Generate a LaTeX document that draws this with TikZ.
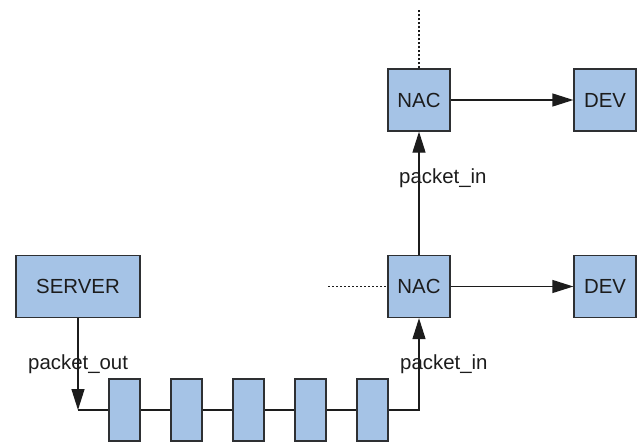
\documentclass[tikz,border=0pt]{standalone}
\usepackage{fontspec}
\setmainfont{Liberation Sans}
\usetikzlibrary{arrows.meta}
\definecolor{boxfill}{HTML}{A5C3E6}
\definecolor{boxline}{HTML}{2E3033}
\definecolor{ink}{HTML}{1C1C1C}
\tikzset{
  unit/.style={draw=boxline, fill=boxfill, line width=1.3pt, inner sep=0pt,
    font=\fontsize{20.4}{24}\selectfont, text=ink},
  bigbox/.style={unit, minimum width=124pt, minimum height=62pt},
  sqbox/.style={unit, minimum width=62pt, minimum height=62pt},
  cell/.style={unit, minimum width=31pt, minimum height=62pt},
  wire/.style={draw=ink, line width=1.3pt},
  arr/.style={wire, -{Triangle[length=21pt, width=13pt]}},
  dots/.style={draw=ink, line width=1.4pt, dash pattern=on 2pt off 2pt},
  lbl/.style={anchor=base west, inner sep=0pt, text=ink,
    font=\fontsize{20.4}{24}\selectfont},
}
\begin{document}
\begin{tikzpicture}[x=1pt, y=-1pt]
  \useasboundingbox (0,0) rectangle (638,442);

  % controller, access nodes and devices
  \node[bigbox] (server) at (78,286.5) {SERVER};
  \node[sqbox] (nacA) at (419,286.5) {NAC};
  \node[sqbox] (nacB) at (419,100) {NAC};
  \node[sqbox] (devA) at (605,286.5) {DEV};
  \node[sqbox] (devB) at (605,100) {DEV};

  % corner of the path below the server
  \coordinate (turn) at (78,410);
  \coordinate (leftend) at (328,286.5);
  \coordinate (topend) at (419,10);

  % links
  \draw[arr] (server.south) -- (turn);
  \draw[arr] (turn) -| (nacA.south);
  \draw[arr] (nacA.north) -- (nacB.south);
  \draw[arr] (nacA.east) -- (devA.west);
  \draw[arr] (nacB.east) -- (devB.west);
  \draw[dots] (leftend) -- (nacA.west);
  \draw[dots] (nacB.north) -- (topend);

  % switch chain on the bottom link
  \foreach \i/\x in {1/124.5, 2/186.5, 3/248.5, 4/310.5, 5/372.5}
    \node[cell] (sw\i) at (\x,410) {};

  % message labels
  \node[lbl] (outlbl) at (28,369) {packet\_out};
  \node[lbl] (inlblA) at (400,369) {packet\_in};
  \node[lbl] (inlblB) at (399,183) {packet\_in};
\end{tikzpicture}
\end{document}
